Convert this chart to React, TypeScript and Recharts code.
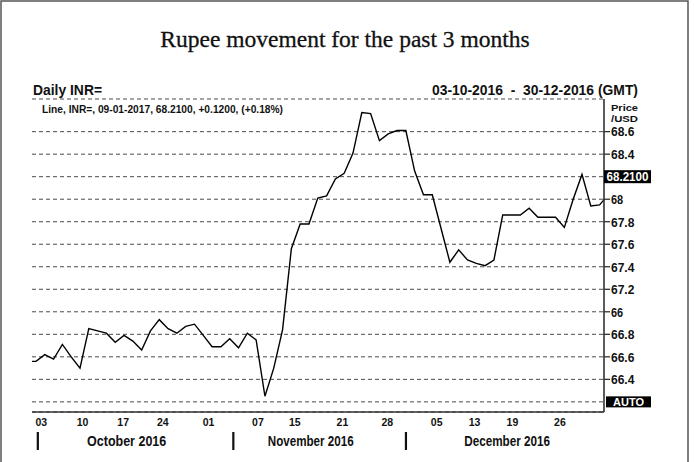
import React from "react";
import { LineChart, Line, XAxis, YAxis, CartesianGrid } from "recharts";

// Trading days (one before and one after the displayed window are clipped by the frame)
const dates: string[] = [
  "30-09-2016",
  "03-10-2016", "04-10-2016", "05-10-2016", "06-10-2016", "07-10-2016",
  "10-10-2016", "11-10-2016", "12-10-2016", "13-10-2016", "14-10-2016",
  "17-10-2016", "18-10-2016", "19-10-2016", "20-10-2016", "21-10-2016",
  "24-10-2016", "25-10-2016", "26-10-2016", "27-10-2016", "28-10-2016",
  "31-10-2016", "01-11-2016", "02-11-2016", "03-11-2016", "04-11-2016",
  "07-11-2016", "08-11-2016", "09-11-2016", "10-11-2016", "11-11-2016",
  "14-11-2016", "15-11-2016", "16-11-2016", "17-11-2016", "18-11-2016",
  "21-11-2016", "22-11-2016", "23-11-2016", "24-11-2016", "25-11-2016",
  "28-11-2016", "29-11-2016", "30-11-2016", "01-12-2016", "02-12-2016",
  "05-12-2016", "06-12-2016", "07-12-2016", "08-12-2016", "09-12-2016",
  "12-12-2016", "13-12-2016", "14-12-2016", "15-12-2016", "16-12-2016",
  "19-12-2016", "20-12-2016", "21-12-2016", "22-12-2016", "23-12-2016",
  "26-12-2016", "27-12-2016", "28-12-2016", "29-12-2016", "30-12-2016",
  "02-01-2017",
];

const inrPerUsd: number[] = [
  66.56,
  66.56, 66.62, 66.58, 66.71, 66.60,
  66.50, 66.85, 66.83, 66.81, 66.73,
  66.79, 66.74, 66.66, 66.83, 66.93,
  66.85, 66.81, 66.87, 66.89, 66.79,
  66.69, 66.69, 66.76, 66.68, 66.81,
  66.75, 66.25, 66.50, 66.84, 67.56,
  67.78, 67.78, 68.01, 68.03, 68.18,
  68.23, 68.41, 68.77, 68.76, 68.52,
  68.58, 68.61, 68.61, 68.25, 68.04,
  68.04, 67.74, 67.44, 67.55, 67.46,
  67.43, 67.41, 67.46, 67.86, 67.86,
  67.86, 67.92, 67.84, 67.84, 67.84,
  67.75, 68.00, 68.22, 67.94, 67.95,
  68.04,
];

// Day tick labels (positions in trading-day units from 03-10-2016)
const dayTickPos: number[] = [0.6, 5.3, 9.9, 14.4, 19.6, 25.2, 29.4, 34.8, 39.9, 45.5, 49.8, 54.1, 59.5];
const dayTickLabels: string[] = ["03", "10", "17", "24", "01", "07", "15", "21", "28", "05", "13", "19", "26"];

const monthSepPos: number[] = [0.2, 22.4, 42.0];
const monthCenterPos: number[] = [10.3, 31.2, 53.5];
const monthLabels: string[] = ["October 2016", "November 2016", "December 2016"];

const priceTicks: number[] = [66.2, 66.4, 66.6, 66.8, 67.0, 67.2, 67.4, 67.6, 67.8, 68.0, 68.2, 68.4, 68.6];
const priceTickLabels: string[] = ["AUTO", "66.4", "66.6", "66.8", "66", "67.2", "67.4", "67.6", "67.8", "68", "68.2100", "68.4", "68.6"];

const rows = dates.map((d, i) => ({ date: d, idx: i - 1, v: inrPerUsd[i] }));

const FONT = "'Liberation Sans', Arial, sans-serif";
const X_DOMAIN: [number, number] = [-0.45, 64.5];
const Y_DOMAIN: [number, number] = [66.11, 68.89];

const near = (a: number, b: number) => Math.abs(a - b) < 1e-6;

const DayTick = (props: any) => {
  const { x, y, payload } = props;
  const k = dayTickPos.findIndex((p) => near(p, payload.value));
  if (k < 0) return null;
  return (
    <text x={x} y={y + 14} textAnchor="middle" fontFamily={FONT} fontWeight="bold" fontSize={10.5} fill="#111">
      {dayTickLabels[k]}
    </text>
  );
};

const MonthTick = (props: any) => {
  const { x, y, payload } = props;
  const s = monthSepPos.findIndex((p) => near(p, payload.value));
  if (s >= 0) {
    return <rect x={x - 1} y={y} width={2.2} height={18} fill="#111" />;
  }
  const k = monthCenterPos.findIndex((p) => near(p, payload.value));
  if (k < 0) return null;
  return (
    <text x={x} y={y + 14} textAnchor="middle" fontFamily={FONT} fontWeight="bold" fontSize={14} fill="#111" textLength={monthLabels[k].length * 6.6} lengthAdjust="spacingAndGlyphs">
      {monthLabels[k]}
    </text>
  );
};

const PriceTick = (props: any) => {
  const { x, y, payload } = props;
  const k = priceTicks.findIndex((p) => near(p, payload.value));
  if (k < 0) return null;
  const label = priceTickLabels[k];
  if (label === "AUTO") {
    return (
      <g>
        <rect x={x + 2} y={y - 5.5} width={45} height={11} fill="#000" />
        <text x={x + 24.5} y={y + 4} textAnchor="middle" fontFamily={FONT} fontWeight="bold" fontSize={11} fill="#fff">
          {label}
        </text>
      </g>
    );
  }
  if (label.length > 5) {
    return (
      <g>
        <rect x={x} y={y - 6.5} width={47} height={13} fill="#000" />
        <text x={x + 23.5} y={y + 4.5} textAnchor="middle" fontFamily={FONT} fontWeight="bold" fontSize={12} fill="#fff" textLength={42} lengthAdjust="spacingAndGlyphs">
          {label}
        </text>
      </g>
    );
  }
  return (
    <g>
      <line x1={x} x2={x + 6} y1={y} y2={y} stroke="#222" strokeWidth={1.2} />
      <text x={x + 7} y={y + 4.8} fontFamily={FONT} fontWeight="bold" fontSize={13.5} fill="#111" textLength={label.length * 5.6 + 1} lengthAdjust="spacingAndGlyphs">
        {label}
      </text>
    </g>
  );
};

export default function App() {
  return (
    <div style={{ position: "absolute", left: 0, top: 0, width: 694, height: 462, background: "#fff", overflow: "hidden" }}>
      <LineChart width={694} height={462} data={rows} margin={{ top: 99, right: 30, left: 32, bottom: 0 }}>
        <CartesianGrid vertical={false} stroke="#4a4a4a" strokeDasharray="4 3" strokeWidth={1} />
        <XAxis
          dataKey="idx"
          type="number"
          domain={X_DOMAIN}
          allowDataOverflow
          ticks={dayTickPos}
          interval={0}
          tick={<DayTick />}
          tickLine={false}
          tickSize={0}
          tickMargin={0}
          axisLine={{ stroke: "#333", strokeWidth: 1.6 }}
          height={20}
        />
        <XAxis
          xAxisId="month"
          dataKey="idx"
          type="number"
          domain={X_DOMAIN}
          allowDataOverflow
          ticks={[...monthSepPos, ...monthCenterPos]}
          interval={0}
          tick={<MonthTick />}
          tickLine={false}
          tickSize={0}
          tickMargin={0}
          axisLine={false}
          height={30}
        />
        <XAxis
          xAxisId="top"
          orientation="top"
          dataKey="idx"
          type="number"
          domain={X_DOMAIN}
          allowDataOverflow
          tick={false}
          tickLine={false}
          axisLine={{ stroke: "#333", strokeWidth: 1.6 }}
          height={0}
        />
        <YAxis
          orientation="right"
          type="number"
          domain={Y_DOMAIN}
          allowDataOverflow
          ticks={priceTicks}
          interval={0}
          tick={<PriceTick />}
          tickLine={false}
          tickSize={0}
          tickMargin={0}
          axisLine={{ stroke: "#333", strokeWidth: 1.6 }}
          width={60}
        />
        <YAxis
          yAxisId="left"
          orientation="left"
          type="number"
          domain={Y_DOMAIN}
          allowDataOverflow
          tick={false}
          tickLine={false}
          axisLine={{ stroke: "#333", strokeWidth: 1.6 }}
          width={0}
        />
        <Line dataKey="v" type="linear" stroke="#000" strokeWidth={1.4} dot={false} isAnimationActive={false} />
      </LineChart>
      <svg width={694} height={462} style={{ position: "absolute", left: 0, top: 0, pointerEvents: "none" }}>
        <polyline points="1,462 1,1 688,1 688,462" fill="none" stroke="#555" strokeWidth={1.5} />
        <text x={345} y={47} textAnchor="middle" fontFamily="'Liberation Serif', 'Times New Roman', serif" fontSize={23.5} fill="#111" stroke="#111" strokeWidth={0.3}>
          Rupee movement for the past 3 months
        </text>
        <text x={33} y={95} fontFamily={FONT} fontWeight="bold" fontSize={14.5} fill="#111" textLength={69} lengthAdjust="spacingAndGlyphs">
          Daily INR=
        </text>
        <text x={638} y={95} textAnchor="end" fontFamily={FONT} fontWeight="bold" fontSize={14.5} fill="#111" textLength={206} lengthAdjust="spacingAndGlyphs" style={{ whiteSpace: "pre" }} xmlSpace="preserve">
          {"03-10-2016  -  30-12-2016 (GMT)"}
        </text>
        <text x={42} y={113} fontFamily={FONT} fontWeight="bold" fontSize={10.5} fill="#111" textLength={241} lengthAdjust="spacingAndGlyphs">
          Line, INR=, 09-01-2017, 68.2100, +0.1200, (+0.18%)
        </text>
        <text x={611} y={110.5} fontFamily={FONT} fontWeight="bold" fontSize={9.5} fill="#111" textLength={27} lengthAdjust="spacingAndGlyphs">
          Price
        </text>
        <text x={611} y={121.5} fontFamily={FONT} fontWeight="bold" fontSize={9.5} fill="#111" textLength={27} lengthAdjust="spacingAndGlyphs">
          /USD
        </text>
      </svg>
    </div>
  );
}
